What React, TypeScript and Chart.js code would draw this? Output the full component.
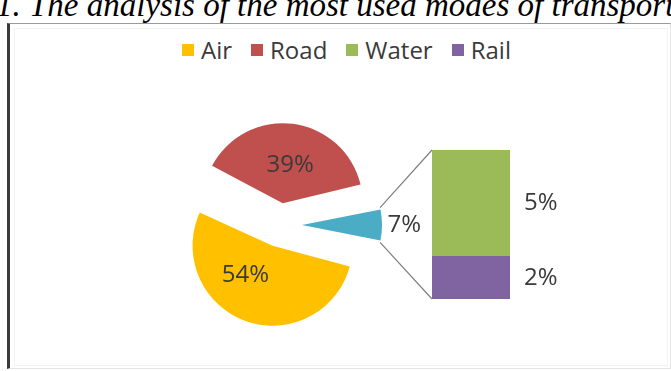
import React, { useEffect, useRef } from 'react';
import { Chart, registerables } from 'chart.js';
Chart.register(...registerables);

const titleText = '1. The analysis of the most used modes of transport';

const pieLabels = ['Other', 'Air', 'Road'];
const pieValues = [7, 54, 39];
const pieColors = ['#4BACC6', '#FFC000', '#C0504D'];

const barLabels = ['Rail', 'Water'];
const barValues = [2, 5];
const barColors = ['#8064A2', '#9BBB59'];

const legendLabels = ['Air', 'Road', 'Water', 'Rail'];
const legendColors = ['#FFC000', '#C0504D', '#9BBB59', '#8064A2'];

const W = 671;
const H = 371;
const PIE_RADIUS = 80;
const EXPLODE = 88; // Chart.js arc offset (translation = offset / 4)
const LABEL_FONT = '24px "Open Sans"';
const LABEL_COLOR = '#3a3a3a';
const labelPlacement = [
  { r: 1.28, da: 0 },
  { r: 0.5, da: 23 },
  { r: 0.48, da: 4 },
];

function arcGeom(arc: any) {
  const t = (arc.options.offset || 0) / 4;
  const mid = (arc.startAngle + arc.endAngle) / 2;
  const fix = 1 - Math.sin(Math.min(Math.PI, arc.circumference));
  return {
    cx: arc.x + Math.cos(mid) * t,
    cy: arc.y + Math.sin(mid) * t,
    r: arc.outerRadius + t * fix,
    mid,
  };
}

export default function App() {
  const pieRef = useRef<HTMLCanvasElement>(null);
  const barRef = useRef<HTMLCanvasElement>(null);

  useEffect(() => {
    const barTotal = barValues.reduce((a, b) => a + b, 0);
    const pieTotal = pieValues.reduce((a, b) => a + b, 0);

    const barChart = new Chart(barRef.current as HTMLCanvasElement, {
      type: 'bar',
      data: {
        labels: ['Other'],
        datasets: barLabels.map((l, i) => ({
          label: l,
          data: [barValues[i]],
          backgroundColor: barColors[i],
          borderWidth: 0,
          barPercentage: 1,
          categoryPercentage: 1,
        })),
      },
      options: {
        animation: false,
        responsive: false,
        events: [],
        layout: { padding: { left: 432, top: 150, right: W - 510, bottom: H - 299 } },
        plugins: { legend: { display: false }, tooltip: { enabled: false } },
        scales: {
          x: { display: false, stacked: true },
          y: { display: false, stacked: true, min: 0, max: barTotal },
        },
      },
      plugins: [
        {
          id: 'barLabels',
          afterDatasetsDraw(chart: any) {
            const ctx = chart.ctx;
            ctx.save();
            ctx.font = LABEL_FONT;
            ctx.fillStyle = LABEL_COLOR;
            ctx.textAlign = 'left';
            ctx.textBaseline = 'middle';
            chart.data.datasets.forEach((ds: any, i: number) => {
              const el = chart.getDatasetMeta(i).data[0];
              ctx.fillText(`${barValues[i]}%`, el.x + el.width / 2 + 14, (el.y + el.base) / 2);
            });
            ctx.restore();
          },
        },
      ],
    } as any);

    const pieChart = new Chart(pieRef.current as HTMLCanvasElement, {
      type: 'pie',
      data: {
        labels: pieLabels,
        datasets: [
          {
            data: pieValues,
            backgroundColor: pieColors,
            borderWidth: 0,
            offset: EXPLODE,
            radius: PIE_RADIUS,
            rotation: 90 - ((pieValues[0] / pieTotal) * 360) / 2,
            clip: false,
          },
        ],
      },
      options: {
        animation: false,
        responsive: false,
        events: [],
        radius: PIE_RADIUS,
        rotation: 90 - ((pieValues[0] / pieTotal) * 360) / 2,
        layout: { padding: { left: 180, right: W - 380, top: 125, bottom: H - 325 } },
        plugins: { legend: { display: false }, tooltip: { enabled: false } },
      },
      plugins: [
        {
          id: 'pieExtras',
          afterDatasetUpdate(chart: any, args: any) {
            args.meta.data.forEach((arc: any) => {
              const t = (arc.options.offset || 0) / 4;
              const fix = 1 - Math.sin(Math.min(Math.PI, arc.circumference));
              arc.outerRadius = arc.outerRadius - t * fix;
            });
          },
          afterDatasetsDraw(chart: any) {
            const ctx = chart.ctx;
            const arcs = chart.getDatasetMeta(0).data;
            // connector lines from the "Other" slice to the stacked bar
            const other = arcs[0];
            const g = arcGeom(other);
            const p1 = { x: g.cx + g.r * Math.cos(other.startAngle), y: g.cy + g.r * Math.sin(other.startAngle) };
            const p2 = { x: g.cx + g.r * Math.cos(other.endAngle), y: g.cy + g.r * Math.sin(other.endAngle) };
            const bTop = barChart.getDatasetMeta(barLabels.length - 1).data[0] as any;
            const bBot = barChart.getDatasetMeta(0).data[0] as any;
            ctx.save();
            ctx.strokeStyle = '#7f7f7f';
            ctx.lineWidth = 1.2;
            ctx.beginPath();
            ctx.moveTo(p1.x, p1.y);
            ctx.lineTo(bTop.x - bTop.width / 2, bTop.y);
            ctx.moveTo(p2.x, p2.y);
            ctx.lineTo(bBot.x - bBot.width / 2, bBot.base);
            ctx.stroke();
            // value labels
            ctx.font = LABEL_FONT;
            ctx.fillStyle = LABEL_COLOR;
            ctx.textAlign = 'center';
            ctx.textBaseline = 'middle';
            arcs.forEach((arc: any, i: number) => {
              const ag = arcGeom(arc);
              const p = labelPlacement[i];
              const a = ag.mid + (p.da * Math.PI) / 180;
              ctx.fillText(`${pieValues[i]}%`, ag.cx + Math.cos(a) * ag.r * p.r, ag.cy + Math.sin(a) * ag.r * p.r);
            });
            ctx.restore();
          },
        },
      ],
    } as any);

    return () => {
      pieChart.destroy();
      barChart.destroy();
    };
  }, []);

  return (
    <div style={{ position: 'fixed', left: 0, top: 0, width: W, height: H, overflow: 'hidden', background: '#fff' }}>
      <div
        style={{
          position: 'absolute',
          left: -4,
          top: -11,
          fontFamily: '"Liberation Serif", serif',
          fontStyle: 'italic',
          fontSize: 33,
          lineHeight: '33px',
          whiteSpace: 'nowrap',
          color: '#000',
        }}
      >
        {titleText}
      </div>
      <div
        style={{
          position: 'absolute',
          left: 7,
          top: 23,
          width: 660,
          height: 344,
          borderLeft: '3px solid #3a3a3a',
          borderTop: '1px solid #9a9a9a',
          borderRight: '1px solid #e4e4e4',
          borderBottom: '1px solid #e4e4e4',
        }}
      >
        <div style={{ position: 'absolute', left: 4, top: 4, right: 2, bottom: 2, border: '1px solid #f2f2f2' }} />
      </div>
      <div
        style={{
          position: 'absolute',
          left: 182,
          top: 35,
          display: 'flex',
          alignItems: 'center',
          fontFamily: '"Open Sans", sans-serif',
          fontSize: 24,
          lineHeight: '30px',
          color: '#3a3a3a',
        }}
      >
        {legendLabels.map((l, i) => (
          <div key={l} style={{ display: 'flex', alignItems: 'center', marginRight: 19 }}>
            <span style={{ display: 'inline-block', width: 12, height: 12, background: legendColors[i], marginRight: 7 }} />
            <span>{l}</span>
          </div>
        ))}
      </div>
      <canvas ref={barRef} width={W} height={H} style={{ position: 'absolute', left: 0, top: 0 }} />
      <canvas ref={pieRef} width={W} height={H} style={{ position: 'absolute', left: 0, top: 0 }} />
    </div>
  );
}
